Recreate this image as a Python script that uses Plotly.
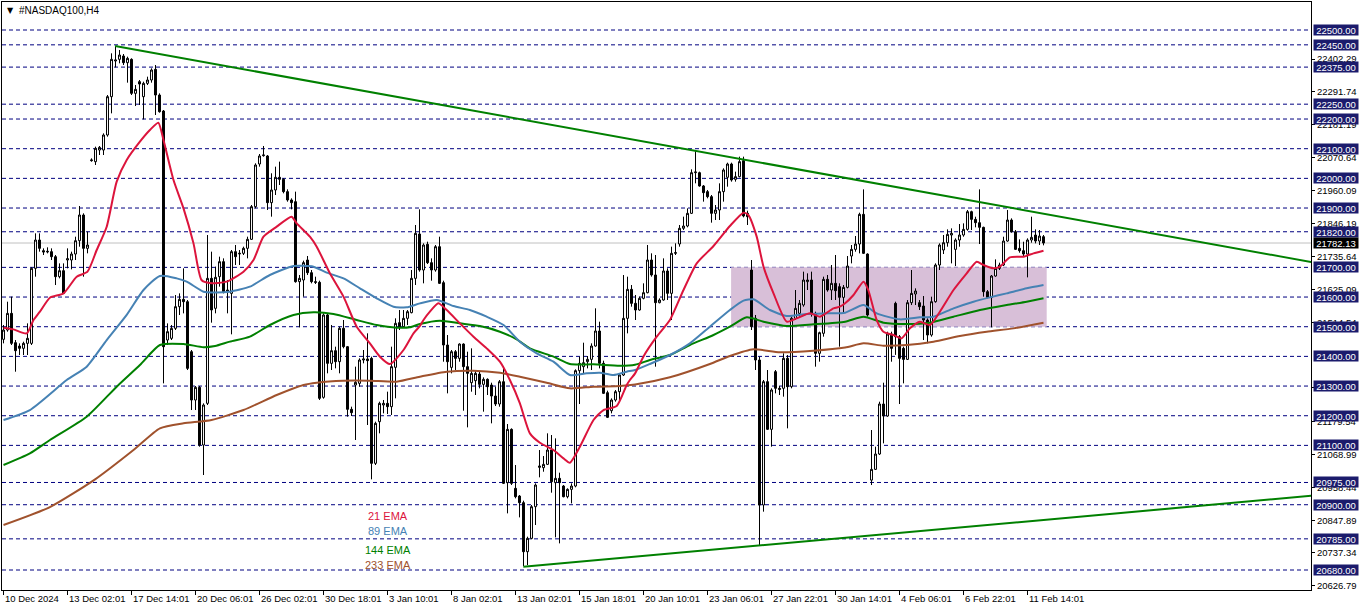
import plotly.graph_objects as go

# ---------------- data ----------------
opens = [21457.4, 21488.9, 21545.0, 21446.2, 21434.9, 21427.1, 21443.9, 21443.9, 21696.7, 21792.2,
         21756.2, 21751.7, 21752.9, 21736.0, 21668.6, 21688.8, 21724.8, 21724.8, 21745.0, 21789.9,
         21876.5, 21764.1, 22059.6, 22056.2, 22095.5, 22095.5, 22146.1, 22275.3, 22395.5, 22401.1,
         22412.4, 22389.9, 22401.1, 22286.5, 22325.9, 22275.3, 22320.2, 22331.5, 22367.4, 22280.9,
         22227.0, 21455.1, 21460.8, 21494.5, 21567.5, 21592.2, 21584.3, 21415.8, 21252.9, 21295.6,
         21101.2, 21241.7, 21663.0, 21561.9, 21668.7, 21719.2, 21618.1, 21612.5, 21752.9, 21745.1,
         21747.3, 21764.2, 21794.5, 21904.6, 22048.4, 22076.5, 22075.4, 21918.1, 21960.8, 22003.5,
         21996.7, 21955.2, 21927.1, 21921.4, 21651.8, 21657.4, 21724.8, 21682.1, 21651.8, 21649.6,
         21262.0, 21539.5, 21376.5, 21419.2, 21382.2, 21494.5, 21432.7, 21221.5, 21303.5, 21309.1,
         21387.8, 21391.2, 21393.4, 21039.5, 21179.9, 21236.1, 21241.7, 21230.5, 21363.1, 21513.6,
         21500.1, 21528.2, 21547.3, 21663.0, 21812.5, 21691.1, 21777.6, 21715.8, 21691.1, 21769.7,
         21648.4, 21438.3, 21363.0, 21415.8, 21393.3, 21441.6, 21365.3, 21311.3, 21318.1, 21340.5,
         21305.7, 21322.6, 21303.5, 21266.4, 21239.4, 21314.7, 20974.3, 21154.0, 20955.2, 20929.3,
         20906.9, 20741.7, 20786.6, 20893.4, 21025.9, 21024.8, 21036.1, 21084.4, 20974.3, 20988.9,
         20963.0, 20927.1, 20951.8, 20963.0, 21351.8, 21365.3, 21382.1, 21390.0, 21434.9, 21485.5,
         21376.5, 21277.6, 21216.9, 21252.9, 21281.0, 21337.2, 21528.2, 21625.9, 21578.8, 21556.3,
         21595.6, 21614.7, 21724.8, 21674.3, 21581.0, 21590.0, 21687.8, 21612.5, 21747.3, 21778.8,
         21831.6, 21839.4, 21882.1, 22019.2, 22019.2, 21974.3, 21955.2, 21938.3, 21882.1, 21893.4,
         21955.2, 22003.5, 22048.4, 21996.7, 22005.7, 22059.6, 21882.1, 21691.1, 21528.2, 21387.8,
         20899.1, 21314.8, 21154.1, 21348.5, 21292.3, 21292.3, 21393.4, 21297.9, 21528.2, 21545.1,
         21573.2, 21651.8, 21657.4, 21545.1, 21410.3, 21477.7, 21659.7, 21623.7, 21646.2, 21635.0,
         21598.9, 21632.6, 21738.2, 21760.7, 21778.7, 21878.7, 21745.0, 20983.0, 21019.2, 21070.9,
         21239.4, 21198.9, 21475.4, 21578.7, 21466.4, 21427.0, 21389.9, 21581.0, 21610.2, 21581.0,
         21569.7, 21522.5, 21472.0, 21584.3, 21707.9, 21758.5, 21783.2, 21809.0, 21760.7, 21792.2,
         21809.0, 21828.1, 21887.7, 21861.8, 21850.6, 21834.9, 21618.0, 21598.9, 21670.8, 21696.7,
         21707.9, 21788.8, 21859.6, 21820.3, 21764.1, 21756.2, 21745.0, 21792.2, 21809.0, 21788.8,
         21803.4]
highs = [21505.7, 21584.3, 21601.2, 21455.1, 21443.9, 21449.5, 21511.3, 21700.1, 21814.7, 21814.7,
         21764.1, 21767.5, 21764.1, 21741.6, 21713.5, 21713.5, 21764.1, 21752.9, 21803.4, 21906.8,
         21882.1, 21820.3, 22067.5, 22106.8, 22109.0, 22151.7, 22280.9, 22421.4, 22446.1, 22432.6,
         22419.1, 22410.1, 22404.5, 22314.6, 22331.5, 22325.9, 22342.7, 22370.8, 22382.0, 22286.5,
         22230.4, 21511.3, 21505.7, 21606.8, 21612.4, 21696.7, 21590.0, 21421.4, 21300.1, 21300.1,
         21241.7, 21809.0, 21752.9, 21702.4, 21736.1, 21730.4, 21657.4, 21758.5, 21775.4, 21758.5,
         21769.8, 21803.5, 21910.2, 22050.7, 22082.1, 22109.1, 22078.7, 22017.0, 22039.4, 22056.3,
         22000.1, 21963.0, 21932.7, 21955.2, 21674.3, 21722.6, 21738.3, 21691.1, 21668.7, 21655.2,
         21545.1, 21545.1, 21505.8, 21432.7, 21500.1, 21522.6, 21435.0, 21230.5, 21365.3, 21393.4,
         21421.5, 21477.7, 21399.0, 21179.9, 21247.3, 21253.0, 21281.1, 21432.7, 21528.2, 21556.3,
         21556.3, 21556.3, 21691.1, 21842.8, 21895.6, 21781.0, 21786.6, 21730.4, 21775.3, 21803.4,
         21655.1, 21472.0, 21421.4, 21421.4, 21443.9, 21443.9, 21415.8, 21427.1, 21354.0, 21348.4,
         21329.3, 21325.9, 21311.3, 21297.8, 21320.3, 21367.5, 21172.0, 21157.4, 21033.8, 20932.7,
         20913.6, 20792.3, 20899.0, 20972.0, 21084.4, 21064.1, 21140.6, 21134.9, 21123.7, 21008.0,
         20966.4, 20955.2, 20972.0, 21356.3, 21399.0, 21446.1, 21401.2, 21443.9, 21561.9, 21516.9,
         21385.5, 21284.4, 21258.5, 21286.6, 21342.8, 21674.2, 21668.6, 21640.5, 21606.9, 21601.3,
         21646.2, 21775.4, 21747.3, 21741.7, 21595.6, 21730.4, 21696.8, 21769.8, 21781.0, 21842.8,
         21870.9, 21899.0, 22030.4, 22093.4, 22022.6, 21977.6, 21960.8, 21943.9, 21910.2, 21983.2,
         22033.8, 22052.9, 22052.9, 22022.6, 22073.1, 22073.1, 21891.1, 21724.8, 21539.5, 21399.0,
         21320.4, 21354.1, 21292.3, 21354.1, 21300.1, 21410.3, 21404.6, 21533.9, 21623.7, 21590.0,
         21685.5, 21679.9, 21685.5, 21550.7, 21483.3, 21668.7, 21674.3, 21708.0, 21741.7, 21646.2,
         21640.5, 21738.2, 21775.3, 21805.7, 21884.3, 21962.9, 21747.2, 21151.8, 21095.6, 21247.3,
         21311.3, 21483.2, 21483.2, 21584.3, 21472.0, 21432.7, 21589.9, 21691.1, 21629.3, 21589.9,
         21603.4, 21528.1, 21601.2, 21713.5, 21780.9, 21809.0, 21828.1, 21831.5, 21797.8, 21846.1,
         21848.3, 21893.3, 21891.0, 21870.8, 21962.9, 21837.1, 21623.6, 21674.2, 21727.0, 21715.8,
         21803.4, 21893.3, 21865.2, 21825.9, 21794.4, 21786.5, 21797.8, 21870.8, 21828.1, 21825.9,
         21809.0]
lows = [21443.9, 21483.2, 21438.3, 21348.4, 21404.6, 21404.6, 21404.6, 21438.3, 21668.6, 21752.9,
        21741.6, 21747.3, 21724.8, 21640.5, 21663.0, 21610.2, 21696.7, 21693.3, 21724.8, 21769.7,
        21668.6, 21747.3, 22056.2, 22045.0, 22078.7, 22078.7, 22140.5, 22219.1, 22374.2, 22387.7,
        22382.0, 22322.5, 22280.9, 22243.8, 22247.2, 22198.9, 22314.6, 22322.5, 22213.5, 22221.4,
        21309.1, 21438.3, 21455.1, 21488.9, 21539.4, 21545.0, 21354.0, 21219.2, 21219.2, 21095.6,
        21000.2, 21236.1, 21513.6, 21545.1, 21635.0, 21612.5, 21545.1, 21474.3, 21708.0, 21708.0,
        21741.7, 21730.4, 21792.3, 21899.0, 22039.4, 22073.1, 21893.4, 21870.9, 21943.9, 21977.6,
        21949.5, 21921.4, 21895.6, 21648.4, 21497.9, 21601.3, 21674.3, 21646.2, 21643.9, 21253.0,
        21257.5, 21342.9, 21354.1, 21359.7, 21342.9, 21427.1, 21196.8, 21199.0, 21118.2, 21297.9,
        21376.5, 21168.7, 20985.6, 21033.9, 21140.6, 21208.0, 21205.8, 21202.4, 21258.6, 21488.9,
        21497.9, 21505.8, 21545.1, 21640.6, 21685.5, 21646.2, 21711.3, 21655.1, 21685.5, 21643.9,
        21382.1, 21275.4, 21342.8, 21354.0, 21382.1, 21216.9, 21160.8, 21281.0, 21269.8, 21292.2,
        21213.6, 21269.8, 21174.3, 21232.7, 21230.4, 20969.8, 20870.9, 20966.4, 20921.5, 20857.4,
        20693.4, 20696.8, 20783.3, 20831.6, 20992.3, 21011.3, 21033.8, 20940.6, 20790.0, 20769.8,
        20924.8, 20921.5, 20904.6, 20958.6, 21239.4, 21342.8, 21359.6, 21354.0, 21432.7, 21359.6,
        21273.1, 21192.2, 21207.9, 21247.3, 21247.3, 21333.8, 21477.6, 21567.5, 21522.6, 21554.1,
        21592.3, 21612.5, 21668.7, 21365.3, 21578.8, 21587.8, 21590.0, 21522.6, 21741.7, 21769.8,
        21826.0, 21835.0, 21879.9, 21983.2, 21972.0, 21921.5, 21932.7, 21850.7, 21859.7, 21859.7,
        21921.5, 21972.0, 21988.9, 21988.9, 22003.5, 21868.6, 21842.8, 21488.9, 21354.1, 20764.3,
        20876.6, 21151.9, 21095.7, 21275.4, 21269.8, 21264.2, 21157.5, 21292.3, 21522.6, 21533.9,
        21567.5, 21623.7, 21533.9, 21365.3, 21382.2, 21466.4, 21618.1, 21590.0, 21590.0, 21432.7,
        21545.0, 21629.3, 21713.5, 21752.8, 21747.2, 21745.0, 21533.8, 20966.4, 21017.0, 21067.5,
        21106.8, 21196.7, 21382.1, 21405.0, 21239.4, 21309.1, 21387.7, 21573.1, 21573.1, 21556.3,
        21455.1, 21443.9, 21466.4, 21581.0, 21691.1, 21745.0, 21769.7, 21713.5, 21704.5, 21769.7,
        21803.4, 21823.6, 21825.9, 21834.9, 21778.7, 21601.2, 21595.6, 21497.8, 21668.6, 21691.1,
        21704.5, 21786.5, 21816.9, 21758.5, 21749.5, 21738.2, 21666.3, 21783.2, 21780.9, 21775.3,
        21774.2]
closes = [21488.8, 21545.0, 21443.9, 21419.2, 21427.1, 21443.9, 21460.8, 21696.7, 21792.2, 21764.1,
          21751.7, 21754.0, 21736.0, 21668.6, 21688.8, 21612.4, 21729.3, 21745.0, 21789.9, 21876.5,
          21764.1, 21775.3, 22061.8, 22101.2, 22104.5, 22146.1, 22275.3, 22401.1, 22398.9, 22415.7,
          22389.9, 22404.5, 22286.5, 22300.0, 22318.0, 22320.2, 22331.5, 22365.2, 22280.9, 22224.7,
          21432.7, 21483.3, 21494.3, 21567.5, 21592.2, 21584.3, 21359.6, 21252.9, 21295.6, 21101.2,
          21236.1, 21663.0, 21556.3, 21666.4, 21719.2, 21618.1, 21623.7, 21752.9, 21736.1, 21747.3,
          21764.2, 21794.5, 21904.6, 22045.0, 22075.4, 22078.7, 21918.1, 21960.8, 22003.5, 21996.7,
          21955.2, 21927.1, 21918.1, 21651.8, 21663.0, 21715.9, 21682.1, 21651.8, 21649.6, 21258.6,
          21539.5, 21376.5, 21419.2, 21382.2, 21494.5, 21432.7, 21221.5, 21210.3, 21312.5, 21387.8,
          21391.2, 21385.6, 21039.5, 21174.3, 21241.7, 21241.7, 21230.5, 21365.3, 21511.4, 21497.9,
          21528.2, 21550.7, 21663.0, 21814.7, 21691.1, 21775.4, 21715.8, 21691.1, 21769.7, 21646.1,
          21438.3, 21382.1, 21415.8, 21393.3, 21441.6, 21365.3, 21342.8, 21342.8, 21342.8, 21305.7,
          21322.6, 21297.8, 21266.4, 21239.4, 21314.7, 20972.0, 21154.0, 20972.0, 20927.1, 20906.9,
          20741.7, 20786.6, 20893.4, 20966.4, 21030.4, 21036.1, 21084.4, 20977.6, 20988.9, 20974.3,
          20927.1, 20951.8, 20963.0, 21351.8, 21376.5, 21378.7, 21390.0, 21434.9, 21485.5, 21376.5,
          21275.4, 21194.5, 21252.9, 21281.0, 21337.2, 21528.2, 21625.9, 21578.7, 21556.3, 21595.6,
          21614.7, 21724.8, 21674.3, 21581.0, 21590.0, 21687.8, 21612.5, 21747.3, 21749.6, 21831.6,
          21839.4, 21882.1, 22019.2, 22021.4, 21974.3, 21951.8, 21938.3, 21882.1, 21893.4, 21955.2,
          22028.2, 22048.4, 21994.5, 22005.7, 22056.3, 21873.1, 21870.9, 21500.1, 21387.8, 20899.1,
          21314.8, 21154.1, 21286.7, 21292.3, 21288.9, 21393.4, 21297.9, 21528.2, 21561.9, 21578.8,
          21657.4, 21657.4, 21545.1, 21410.3, 21479.9, 21659.7, 21623.7, 21646.2, 21621.5, 21599.0,
          21632.6, 21704.5, 21760.7, 21778.7, 21878.7, 21747.2, 21539.4, 21019.2, 21070.9, 21239.4,
          21198.9, 21475.4, 21427.0, 21466.4, 21393.3, 21389.9, 21581.0, 21612.4, 21620.3, 21567.5,
          21522.5, 21472.0, 21584.3, 21707.9, 21775.3, 21783.2, 21811.3, 21814.6, 21792.2, 21809.0,
          21828.1, 21887.7, 21861.8, 21850.6, 21834.9, 21618.0, 21598.9, 21670.8, 21696.7, 21707.9,
          21788.8, 21859.6, 21820.3, 21760.7, 21756.2, 21745.0, 21792.2, 21801.2, 21788.8, 21805.6,
          21782.13]
bars = list(range(len(opens)))

ema21_bar = [0, 2.5, 5.8, 7.5, 9.1, 11.6, 15, 18.3, 21, 23.3, 25.8, 28.3, 30.8, 34.1, 36.6, 38.7, 40,
             42.5, 45, 47.5, 49.5, 51.6, 55.8, 60, 62.5, 65, 68.3, 72, 73.3, 76.6, 78.3, 81.6, 85,
             88.3, 91.6, 94.1, 96.6, 100, 102.5, 104.1, 105, 106.6, 108.7, 110.8, 114.1, 117.5,
             120.8, 124.1, 126.6, 129.1, 131.6, 134.1, 137.5, 140, 141.6, 144.1, 147.5, 150, 153.3,
             155.8, 156.6, 157.9, 160, 163.3, 166.6, 170, 173.3, 177.5, 181.6, 185, 186.2, 188.3,
             190, 192.5, 195.8, 198.3, 201.6, 204.1, 207.5, 209.1, 210.4, 212.5, 215, 216.2, 218.3,
             220, 222.5, 224.5, 226.6, 229.1, 231.6, 234.1, 237.5, 240.8, 243.3, 245, 247.5, 249.1,
             251.6, 255, 257.5, 260]
ema21_val = [21496.7, 21491.0, 21477.6, 21522.6, 21550.6, 21597.8, 21612.4, 21668.6, 21685.5, 21758.5,
             21837.1, 21988.8, 22061.8, 22123.6, 22162.9, 22187.7, 22129.2, 21994.4, 21899.0, 21780.9,
             21657.4, 21647.0, 21651.8, 21685.5, 21724.8, 21803.5, 21837.2, 21870.9, 21848.4, 21803.5,
             21769.8, 21680.0, 21601.3, 21500.1, 21444.0, 21399.0, 21374.3, 21421.5, 21477.7, 21502.3,
             21522.6, 21550.6, 21578.7, 21556.2, 21511.3, 21466.4, 21427.0, 21382.1, 21320.3, 21241.7,
             21140.6, 21109.1, 21084.4, 21056.3, 21041.7, 21095.6, 21185.5, 21219.2, 21232.7, 21303.5,
             21320.4, 21342.8, 21400.0, 21466.4, 21522.6, 21623.7, 21713.6, 21772.0, 21839.4, 21884.4,
             21876.5, 21803.5, 21702.4, 21612.5, 21517.0, 21528.2, 21545.1, 21533.9, 21562.0, 21567.5,
             21578.8, 21606.8, 21651.7, 21623.6, 21522.5, 21483.2, 21472.0, 21460.7, 21494.4, 21516.9,
             21505.7, 21550.6, 21623.6, 21679.8, 21719.1, 21707.9, 21696.7, 21702.3, 21733.7, 21736.0,
             21747.2, 21756.2]

ema89_bar = [0, 6.6, 15.8, 20.8, 25.8, 30.8, 35, 39.1, 43.3, 45.8, 50, 52.9, 56.6, 61.6, 66.6, 72.5,
             77.5, 80.8, 85, 89.1, 93.3, 97.5, 100.8, 104.1, 108.3, 112.5, 116.6, 120.8, 125, 129.1,
             133.3, 137.5, 141.6, 145.8, 149.1, 152.5, 155.8, 157.9, 161.6, 166.6, 171.6, 176.6,
             181.6, 185, 187.5, 191.6, 195.8, 200.8, 206.6, 210.4, 215, 218.3, 224.1, 229.1, 232.5,
             237.5, 242.5, 246.6, 250.8, 255.8, 260]
ema89_val = [21185.5, 21219.2, 21320.3, 21365.3, 21455.0, 21540.0, 21623.7, 21670.9, 21663.0, 21651.8,
             21618.1, 21615.5, 21618.1, 21634.9, 21674.3, 21704.6, 21702.4, 21682.1, 21663.0, 21629.3,
             21595.6, 21567.5, 21565.3, 21578.7, 21590.0, 21569.7, 21556.2, 21533.8, 21505.7, 21449.5,
             21410.2, 21382.1, 21337.2, 21342.8, 21345.0, 21337.2, 21348.4, 21354.0, 21374.3, 21404.6,
             21444.0, 21500.1, 21556.3, 21587.8, 21592.3, 21556.3, 21536.1, 21542.8, 21545.1, 21547.3,
             21573.1, 21545.0, 21524.8, 21531.5, 21533.8, 21561.9, 21584.3, 21598.9, 21612.4, 21629.3,
             21640.5]

ema144_bar = [0, 6.6, 11.6, 20.8, 28.3, 34.1, 39.1, 45, 50, 52.9, 56.6, 61.6, 66.6, 72.5, 77.5, 82.5,
              88.3, 93.3, 98.3, 101.6, 104.1, 109.1, 114.1, 119.1, 124.1, 128.3, 131.6, 137.5, 141.6,
              147.5, 154.1, 157.9, 161.6, 166.6, 171.6, 177.5, 181.6, 185.8, 190, 195.8, 202.5,
              210.4, 215, 220, 225.8, 231.6, 237.5, 244.1, 250.8, 255.8, 260]
ema144_val = [21033.8, 21073.2, 21118.1, 21196.7, 21297.9, 21370.9, 21438.3, 21441.7, 21431.0, 21434.9,
              21449.6, 21466.4, 21505.8, 21539.5, 21548.5, 21542.8, 21522.6, 21505.8, 21496.8, 21497.9,
              21509.1, 21520.3, 21511.3, 21502.3, 21483.2, 21457.4, 21427.0, 21399.0, 21374.2, 21373.1,
              21368.6, 21372.0, 21387.8, 21404.6, 21438.4, 21472.1, 21500.1, 21531.6, 21517.0, 21502.4,
              21508.0, 21517.0, 21533.8, 21513.6, 21509.1, 21513.6, 21533.8, 21556.3, 21573.1, 21584.3,
              21595.6]

ema233_bar = [0, 11.6, 22.9, 32.5, 39.1, 45, 52, 60, 68.3, 75, 78.3, 85, 91.6, 98.3, 104.1, 110.8,
              117.5, 124.1, 129.1, 135.8, 141.6, 147.5, 154.1, 157.9, 166.6, 176.6, 181.6, 187.5,
              194.1, 202.5, 210.4, 215, 220, 225.8, 232.5, 239.1, 245.8, 252.5, 260]
ema233_val = [20831.6, 20892.0, 20985.5, 21084.4, 21157.4, 21174.3, 21185.5, 21219.3, 21269.8, 21303.6,
              21311.4, 21318.1, 21318.1, 21314.8, 21331.5, 21348.4, 21351.8, 21345.0, 21331.5, 21311.3,
              21292.2, 21297.8, 21300.1, 21305.0, 21329.4, 21374.3, 21401.3, 21423.8, 21413.6, 21419.2,
              21430.0, 21443.9, 21436.0, 21438.3, 21449.5, 21468.6, 21483.2, 21494.4, 21513.6]

level_prices = [22500, 22450, 22375, 22250, 22200, 22100, 22000, 21900, 21820, 21700, 21600,
                21500, 21400, 21300, 21200, 21100, 20975, 20900, 20785, 20680]
last_price = 21782.13
axis_tick_prices = [22402.29, 22291.74, 22181.19, 22070.64, 21960.09, 21846.19, 21735.64, 21625.09,
                    21514.54, 21293.44, 21179.54, 21068.99, 20958.44, 20847.89, 20737.34,
                    20626.79]
date_tick_bars = [0, 16, 32, 48, 64, 80, 96, 112, 128, 144, 160, 176, 192, 208, 224, 240, 256]
date_tick_labels = ["10 Dec 2024", "13 Dec 02:01", "17 Dec 14:01", "20 Dec 06:01", "26 Dec 02:01",
                    "30 Dec 18:01", "3 Jan 10:01", "8 Jan 02:01", "13 Jan 02:01", "15 Jan 18:01",
                    "20 Jan 10:01", "23 Jan 06:01", "27 Jan 22:01", "30 Jan 14:01", "4 Feb 06:01",
                    "6 Feb 22:01", "11 Feb 14:01"]
upper_trend_bar = [27.9, 326.9]
upper_trend_price = [22446.0, 21718.0]
lower_trend_bar = [129.95, 326.9]
lower_trend_price = [20691.0, 20930.0]
zone_bars = [181.9, 260.8]
zone_prices = [21500, 21700]
ema_names = ["21 EMA", "89 EMA", "144 EMA", "233 EMA"]
ema_colors = ["#DC143C", "#4682B4", "#008000", "#A0522D"]
ema_label_bar = 96.1
ema_label_prices = [20862, 20811, 20747, 20697]

X_RANGE = [-0.375, 326.875]
Y_RANGE = [20612.6, 22594.4]
NAVY = "#000080"
BOX = "#1b1b6c"
FONT = "Liberation Sans"

fig = go.Figure()

fig.add_trace(go.Candlestick(
    x=bars, open=opens, high=highs, low=lows, close=closes,
    increasing=dict(line=dict(color="black", width=1), fillcolor="white"),
    decreasing=dict(line=dict(color="black", width=1), fillcolor="black"),
    whiskerwidth=0, showlegend=False, hoverinfo="skip"))

for bx, vals, col in [(ema233_bar, ema233_val, ema_colors[3]),
                      (ema144_bar, ema144_val, ema_colors[2]),
                      (ema89_bar, ema89_val, ema_colors[1]),
                      (ema21_bar, ema21_val, ema_colors[0])]:
    fig.add_trace(go.Scatter(x=bx, y=vals, mode="lines",
                             line=dict(color=col, width=2, shape="spline", smoothing=0.6),
                             showlegend=False, hoverinfo="skip"))

for bx, py in [(upper_trend_bar, upper_trend_price), (lower_trend_bar, lower_trend_price)]:
    fig.add_trace(go.Scatter(x=bx, y=py, mode="lines", line=dict(color="#008000", width=2),
                             showlegend=False, hoverinfo="skip", cliponaxis=True))

shapes = [dict(type="rect", xref="x", yref="y", x0=zone_bars[0], x1=zone_bars[1],
               y0=zone_prices[0], y1=zone_prices[1], fillcolor="#D8BFD8",
               line=dict(width=0), layer="below")]
for lp in level_prices:
    shapes.append(dict(type="line", xref="paper", yref="y", x0=0, x1=1, y0=lp, y1=lp,
                       line=dict(color=NAVY, width=1, dash="4px,3px"), layer="below"))
shapes.append(dict(type="line", xref="paper", yref="y", x0=0, x1=1, y0=last_price, y1=last_price,
                   line=dict(color="#C0C0C0", width=1), layer="below"))

ann = []
for b, t in zip(date_tick_bars, date_tick_labels):
    ann.append(dict(x=b, y=0, xref="x", yref="paper", text=t, showarrow=False,
                    xanchor="left", yanchor="top", xshift=-1, yshift=-1,
                    font=dict(family=FONT, size=9.5, color="black")))
for lp in level_prices:
    ann.append(dict(x=1, y=lp, xref="paper", yref="y", text=f"{lp:.2f}", showarrow=False,
                    xanchor="left", yanchor="middle", xshift=2, width=44, height=10,
                    bgcolor=BOX, borderpad=0,
                    font=dict(family=FONT, size=9.5, color="white")))
ann.append(dict(x=1, y=last_price, xref="paper", yref="y", text=f"{last_price:.2f}",
                showarrow=False, xanchor="left", yanchor="middle", xshift=2, width=44, height=10,
                bgcolor="black", borderpad=0, font=dict(family=FONT, size=9.5, color="white")))
for name, col, pr in zip(ema_names, ema_colors, ema_label_prices):
    ann.append(dict(x=ema_label_bar, y=pr, xref="x", yref="y", text=name, showarrow=False,
                    xanchor="center", yanchor="middle",
                    font=dict(family=FONT, size=11, color=col)))
ann.append(dict(x=0, y=1, xref="paper", yref="paper", text="▼", showarrow=False,
                xanchor="left", yanchor="middle", xshift=3, yshift=-8,
                font=dict(family="DejaVu Sans", size=8, color="black")))
ann.append(dict(x=0, y=1, xref="paper", yref="paper", text="#NASDAQ100,H4", showarrow=False,
                xanchor="left", yanchor="middle", xshift=15, yshift=-8,
                font=dict(family=FONT, size=10, color="black")))

fig.update_layout(
    width=1362, height=611,
    margin=dict(l=2, r=51, t=2, b=21, pad=0),
    paper_bgcolor="white", plot_bgcolor="white",
    shapes=shapes, annotations=ann,
    showlegend=False,
    font=dict(family=FONT, size=9.5, color="black"),
    xaxis=dict(range=X_RANGE, showgrid=False, zeroline=False, showline=True, mirror=True,
               linecolor="black", linewidth=1, ticks="outside", ticklen=4, tickcolor="black",
               tickvals=date_tick_bars, showticklabels=False,
               rangeslider=dict(visible=False), fixedrange=True),
    yaxis=dict(range=Y_RANGE, side="right", showgrid=False, zeroline=False, showline=True,
               mirror=True, linecolor="black", linewidth=1, ticks="outside", ticklen=3,
               tickcolor="black", tickvals=axis_tick_prices,
               ticktext=[f"{v:.2f}" for v in axis_tick_prices],
               tickfont=dict(family=FONT, size=9.5, color="black"), fixedrange=True),
)

fig.write_html("out.html", config={"displayModeBar": False},
               post_script="document.body.style.margin='0px';")
